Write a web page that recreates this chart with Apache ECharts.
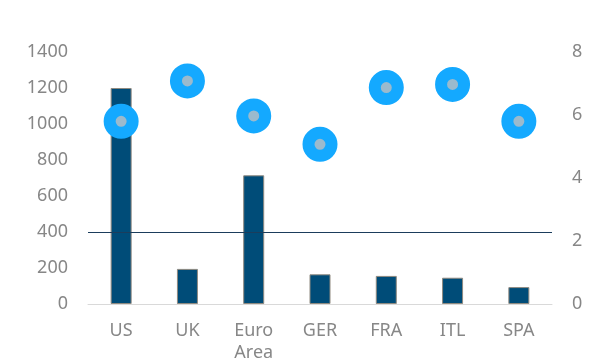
<!DOCTYPE html>
<html><head><meta charset="utf-8">
<script src="https://cdn.jsdelivr.net/npm/echarts@6/dist/echarts.min.js"></script>
<style>html,body{margin:0;padding:0;background:#fff}#c{width:603px;height:360px}</style>
</head><body><div id="c"></div>
<script>
var categories = ['US', 'UK', 'Euro\nArea', 'GER', 'FRA', 'ITL', 'SPA'];
var barValues = [1200, 195, 715, 165, 156, 146, 94];
var dotValues = [5.8, 7.08, 5.97, 5.07, 6.87, 6.97, 5.8];
var leftTicks = {min: 0, max: 1400, interval: 200};
var rightTicks = {min: 0, max: 8, interval: 2};
var refLevel = 400;

var textColor = '#878787';
var font = 'Noto Sans';
var chart = echarts.init(document.getElementById('c'), null, {renderer: 'canvas'});
chart.setOption({
  animation: false,
  grid: {left: 88, right: 51, top: 52, bottom: 56, containLabel: false, outerBoundsMode: 'none'},
  xAxis: {
    type: 'category', data: categories,
    axisLine: {show: true, lineStyle: {color: '#d9d9d9', width: 1}},
    axisTick: {show: false},
    axisLabel: {color: textColor, fontFamily: font, fontSize: 18, margin: 16, lineHeight: 22}
  },
  yAxis: [{
    type: 'value', min: leftTicks.min, max: leftTicks.max, interval: leftTicks.interval,
    axisLine: {show: false}, axisTick: {show: false}, splitLine: {show: false},
    axisLabel: {color: textColor, fontFamily: font, fontSize: 18, margin: 20,
      formatter: function (v) { return String(v); }}
  }, {
    type: 'value', min: rightTicks.min, max: rightTicks.max, interval: rightTicks.interval,
    axisLine: {show: false}, axisTick: {show: false}, splitLine: {show: false},
    axisLabel: {color: textColor, fontFamily: font, fontSize: 18, margin: 20,
      formatter: function (v) { return String(v); }}
  }],
  series: [{
    type: 'bar', data: barValues, yAxisIndex: 0, barWidth: 21,
    itemStyle: {color: '#004c78', borderColor: '#8f8a80', borderWidth: 1},
    markLine: {
      silent: true, symbol: 'none', label: {show: false},
      lineStyle: {color: '#1b3d5c', width: 1, type: 'solid'},
      data: [{yAxis: refLevel}]
    },
    z: 2
  }, {
    type: 'scatter', data: dotValues, yAxisIndex: 1,
    symbol: 'circle', symbolSize: 23,
    itemStyle: {color: '#9bbacd', borderColor: '#14a9ff', borderWidth: 12, opacity: 1},
    z: 3
  }]
});
</script></body></html>
